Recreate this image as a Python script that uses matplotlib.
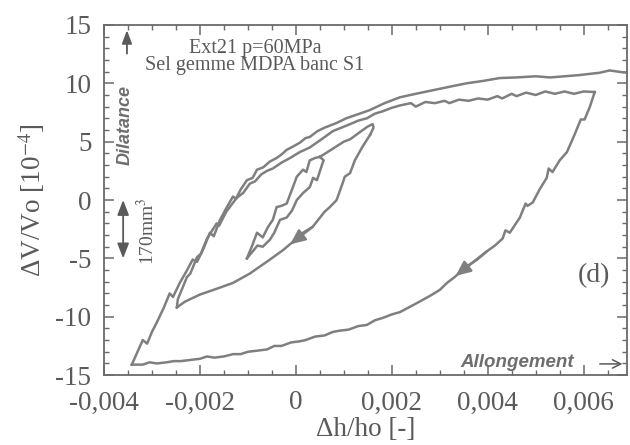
import matplotlib
matplotlib.use('Agg')
import matplotlib.pyplot as plt
from matplotlib.ticker import MultipleLocator, FuncFormatter

plt.rcParams['font.family'] = ['Liberation Serif', 'DejaVu Serif']
plt.rcParams['mathtext.fontset'] = 'stix'
plt.rcParams['axes.unicode_minus'] = False

LINE = '#7f7f7f'
TEXT = '#5a5a5a'

# (dh/ho, dV/Vo [1e-4]), one list per branch
small_loop_down = [(0.00050, 3.7), (0.00058, 3.4), (0.00056, 3.2), (0.00044, 1.7), (0.00036, 1.9),
                   (0.00029, 1.1), (0.00015, 0.6), (0.00002, 0.0), (-0.00008, -0.9), (-0.00019, -1.5),
                   (-0.00033, -1.7), (-0.00045, -2.8), (-0.00054, -3.4), (-0.00069, -4.0),
                   (-0.00080, -3.9), (-0.00090, -4.4), (-0.00102, -5.0)]
small_loop_up = [(-0.00102, -5.0), (-0.00090, -3.8), (-0.00081, -2.8), (-0.00069, -3.2), (-0.00058, -2.3),
                 (-0.00048, -1.7), (-0.00040, -0.6), (-0.00030, -0.5), (-0.00019, -0.3), (-0.00008, 0.9),
                 (0.00002, 2.0), (0.00015, 2.6), (0.00022, 2.4), (0.00029, 3.4), (0.00040, 3.6),
                 (0.00050, 3.7)]
medium_up = [(0.00050, 3.7), (0.00062, 4.0), (0.00081, 4.5), (0.00100, 5.0), (0.00113, 5.2),
             (0.00133, 5.8), (0.00150, 6.3), (0.00160, 6.5), (0.00162, 6.2), (0.00155, 5.6)]
medium_down = [(0.00155, 5.6), (0.00138, 4.5), (0.00123, 3.4), (0.00113, 2.3), (0.00102, 2.0),
               (0.00098, 1.5), (0.00085, 0.0), (0.00071, -0.6), (0.00060, -1.0), (0.00035, -2.3),
               (0.00015, -2.8), (0.00002, -3.3), (-0.00027, -4.3), (-0.00054, -5.1), (-0.00075, -5.7),
               (-0.00096, -6.3), (-0.00131, -7.1), (-0.00165, -7.6), (-0.00200, -8.1),
               (-0.00231, -8.7), (-0.00248, -9.2)]
reload_1 = [(-0.00248, -9.2), (-0.00246, -8.5), (-0.00236, -7.5), (-0.00227, -6.6), (-0.00220, -6.3),
            (-0.00206, -4.9), (-0.00198, -4.6), (-0.00185, -3.3), (-0.00165, -2.0), (-0.00160, -2.2),
            (-0.00145, -1.0), (-0.00123, 0.2), (-0.00110, 0.6), (-0.00096, 1.4), (-0.00085, 1.6),
            (-0.00072, 2.2), (-0.00060, 2.5), (-0.00048, 2.7), (-0.00030, 3.2), (-0.00012, 3.6),
            (0.00008, 4.1), (0.00029, 4.5), (0.00050, 5.1), (0.00077, 5.9), (0.00095, 6.2),
            (0.00113, 6.5), (0.00130, 6.8), (0.00148, 7.0), (0.00165, 7.4), (0.00181, 7.6),
            (0.00200, 7.9), (0.00217, 8.1), (0.00240, 8.3), (0.00250, 8.0), (0.00270, 8.4),
            (0.00290, 8.3), (0.00310, 8.5), (0.00320, 8.3), (0.00340, 8.6), (0.00360, 8.5),
            (0.00380, 8.7), (0.00400, 8.6), (0.00420, 8.9), (0.00430, 8.7), (0.00450, 9.1),
            (0.00460, 8.9), (0.00480, 9.2), (0.00500, 9.0), (0.00520, 9.3), (0.00540, 9.1),
            (0.00560, 9.3), (0.00580, 9.1), (0.00600, 9.3), (0.00623, 9.25)]
unload_big = [(0.00623, 9.25), (0.00613, 8.0), (0.00602, 6.9), (0.00594, 6.9), (0.00581, 5.6),
              (0.00565, 4.1), (0.00550, 3.4), (0.00535, 2.4), (0.00527, 2.7), (0.00523, 1.9),
              (0.00508, 0.9), (0.00494, -0.2), (0.00483, -0.5), (0.00479, -0.3), (0.00467, -1.5),
              (0.00446, -2.8), (0.00437, -2.6), (0.00431, -3.3), (0.00415, -3.9), (0.00398, -4.4),
              (0.00378, -5.1), (0.00356, -5.7), (0.00331, -6.6), (0.00315, -7.1), (0.00300, -7.7),
              (0.00280, -8.2), (0.00258, -8.7), (0.00240, -9.1), (0.00217, -9.6), (0.00200, -9.8),
              (0.00181, -10.1), (0.00165, -10.3), (0.00148, -10.7), (0.00130, -10.8),
              (0.00110, -11.1), (0.00090, -11.2), (0.00077, -11.3), (0.00060, -11.6),
              (0.00040, -11.7), (0.00020, -12.0), (0.00008, -12.1), (-0.00010, -12.2),
              (-0.00030, -12.5), (-0.00045, -12.5), (-0.00060, -12.8), (-0.00080, -12.9),
              (-0.00100, -13.0), (-0.00115, -13.2), (-0.00131, -13.2), (-0.00150, -13.4),
              (-0.00170, -13.5), (-0.00185, -13.4), (-0.00200, -13.6), (-0.00220, -13.7),
              (-0.00240, -13.8), (-0.00255, -13.8), (-0.00269, -13.9), (-0.00290, -14.0),
              (-0.00305, -13.9), (-0.00319, -14.1), (-0.00330, -14.1), (-0.00342, -14.1)]
reload_2 = [(-0.00342, -14.1), (-0.00330, -13.0), (-0.00319, -12.0), (-0.00310, -12.3), (-0.00300, -11.3),
            (-0.00290, -10.5), (-0.00275, -9.2), (-0.00263, -8.0), (-0.00256, -8.3), (-0.00242, -7.1),
            (-0.00228, -6.1), (-0.00215, -5.1), (-0.00206, -5.3), (-0.00194, -4.3), (-0.00179, -2.8),
            (-0.00171, -3.1), (-0.00158, -1.7), (-0.00145, -0.7), (-0.00131, 0.3), (-0.00125, 0.1),
            (-0.00115, 0.9), (-0.00102, 1.7), (-0.00090, 1.9), (-0.00081, 2.6), (-0.00068, 2.8),
            (-0.00054, 3.3), (-0.00040, 3.6), (-0.00030, 3.9), (-0.00019, 4.3), (-0.00005, 4.6),
            (0.00008, 4.9), (0.00020, 5.3), (0.00029, 5.4), (0.00045, 5.9), (0.00060, 6.2),
            (0.00085, 6.6), (0.00105, 7.0), (0.00133, 7.4), (0.00154, 7.7), (0.00185, 8.3),
            (0.00217, 8.8), (0.00250, 9.1), (0.00285, 9.4), (0.00320, 9.7), (0.00356, 10.0),
            (0.00390, 10.2), (0.00425, 10.45), (0.00460, 10.5), (0.00500, 10.6), (0.00530, 10.5),
            (0.00560, 10.6), (0.00590, 10.7), (0.00633, 10.9), (0.00654, 11.1), (0.00680, 10.95),
            (0.00700, 10.9)]

branches = [small_loop_down, small_loop_up, medium_up, medium_down, reload_1, unload_big, reload_2]

x_ticks = [-0.004, -0.002, 0, 0.002, 0.004, 0.006]
y_ticks = [-15, -10, -5, 0, 5, 10, 15]


def comma_fmt(v, pos):
    if abs(v) < 1e-12:
        return '0'
    return ('%.3f' % v).replace('.', ',')


fig = plt.figure(figsize=(6.3, 4.45), dpi=100)
ax = fig.add_axes([0.165, 0.157, 0.830, 0.787])

for pts in branches:
    xs, ys = zip(*pts)
    ax.plot(xs, ys, color=LINE, lw=1.8, solid_joinstyle='round')

# direction arrows on the unloading branches
head = dict(arrowstyle='-|>,head_length=0.9,head_width=0.4', color=LINE, lw=1.8,
            shrinkA=0, shrinkB=0)
ax.annotate('', xy=(-0.00012, -3.8), xytext=(0.00035, -2.3), arrowprops=head)
ax.annotate('', xy=(0.00333, -6.5), xytext=(0.00398, -4.4), arrowprops=head)

ax.set_xlim(-0.004, 0.0069)
ax.set_ylim(-15, 15)
ax.set_xticks(x_ticks)
ax.set_yticks(y_ticks)
ax.xaxis.set_minor_locator(MultipleLocator(0.0005))
ax.yaxis.set_minor_locator(MultipleLocator(1))
ax.xaxis.set_major_formatter(FuncFormatter(comma_fmt))
ax.yaxis.set_major_formatter(FuncFormatter(lambda v, p: '%d' % v))
ax.tick_params(which='both', direction='in', top=True, right=True, color='#6a6a6a',
               labelcolor=TEXT, labelsize=19.5)
ax.tick_params(which='major', length=7, width=1.1)
ax.tick_params(which='minor', length=3.5, width=1)
ax.tick_params(axis='y', pad=9)
ax.tick_params(axis='x', pad=11)
for s in ax.spines.values():
    s.set_color('#6a6a6a')
    s.set_linewidth(1.3)

ax.set_xlabel('Δh/ho [-]', fontsize=19.5, color=TEXT, labelpad=1)
ax.set_ylabel('ΔV/Vo [10$^{-4}$]', fontsize=19.5, color=TEXT, labelpad=6)

ax.text(0.289, 0.933, 'Ext21 p=60MPa', transform=ax.transAxes, ha='center', va='center',
        fontsize=14.5, color=TEXT)
ax.text(0.289, 0.884, 'Sel gemme MDPA banc S1', transform=ax.transAxes, ha='center',
        va='center', fontsize=14.5, color=TEXT)
ax.text(0.937, 0.285, '(d)', transform=ax.transAxes, ha='center', va='center',
        fontsize=20, color=TEXT)

sans = ['Liberation Sans', 'DejaVu Sans']
ax.text(0.040, 0.714, 'Dilatance', transform=ax.transAxes, rotation=90, ha='center',
        va='center', family=sans, weight='bold', style='italic', fontsize=13, color='#6e6e6e')
ax.annotate('', xy=(0.044, 0.985), xytext=(0.044, 0.918), xycoords='axes fraction',
            arrowprops=dict(arrowstyle='-|>,head_length=0.8,head_width=0.3', color=TEXT,
                            lw=1.3, shrinkA=0, shrinkB=0))
ax.text(0.79, 0.036, 'Allongement', transform=ax.transAxes, ha='center', va='center',
        family=sans, weight='bold', style='italic', fontsize=13.5, color='#6e6e6e')
ax.annotate('', xy=(0.997, 0.032), xytext=(0.943, 0.032), xycoords='axes fraction',
            arrowprops=dict(arrowstyle='->,head_length=0.6,head_width=0.3', color=TEXT, lw=1.1))

# 5e-4 scale bar equal to 170 mm3
ax.annotate('', xy=(-0.0036, -5), xytext=(-0.0036, 0),
            arrowprops=dict(arrowstyle='<|-|>,head_length=0.9,head_width=0.35', color=TEXT,
                            lw=1.3, shrinkA=0, shrinkB=0))
ax.text(0.082, 0.41, '170mm$^3$', transform=ax.transAxes, rotation=90, ha='center',
        va='center', fontsize=14, color=TEXT)

fig.savefig('out.png', dpi=100)
